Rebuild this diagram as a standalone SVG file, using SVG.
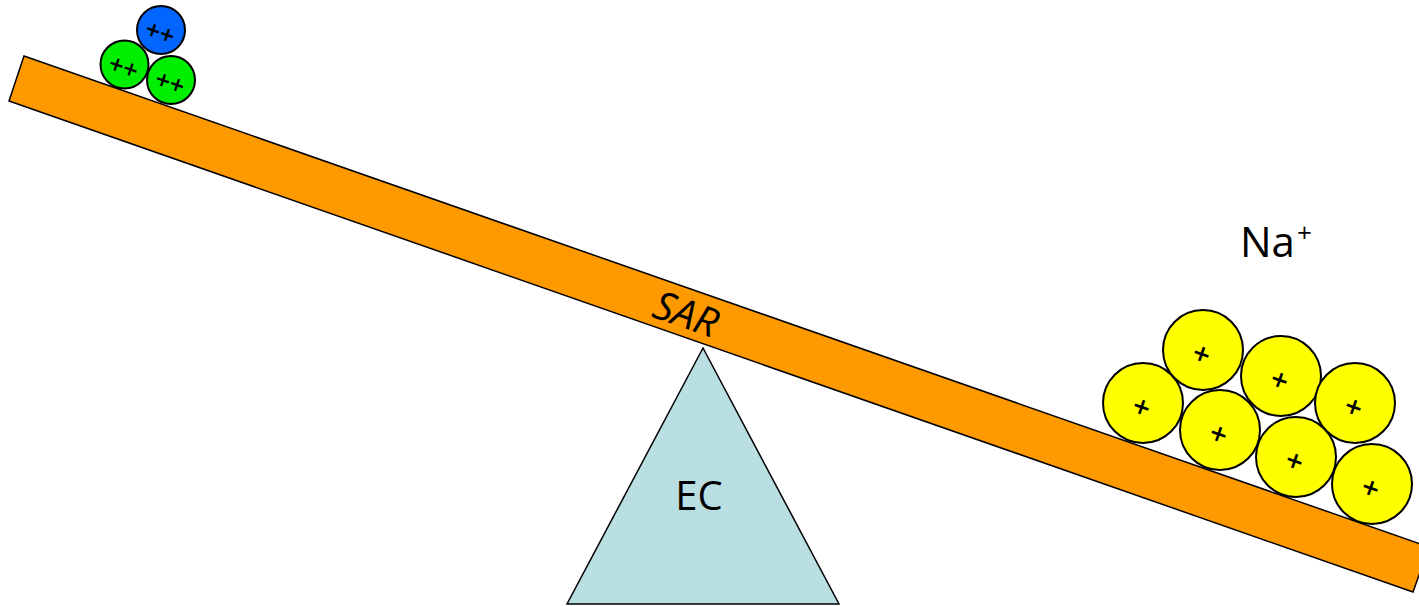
<svg xmlns="http://www.w3.org/2000/svg" width="1419" height="606" viewBox="0 0 1419 606">
<style>
.lbl{font-family:"Open Sans","Liberation Sans",sans-serif;fill:#000}
.ion{stroke:#000;stroke-width:2}
.y{fill:#FFFF00}
.g{fill:#00EE00}
.b{fill:#0066FF}
.pl{font-family:"Open Sans","Liberation Sans",sans-serif;font-size:30px;font-weight:600;text-anchor:middle;fill:#000}
.pp{font-family:"Open Sans","Liberation Sans",sans-serif;font-size:26px;font-weight:600;text-anchor:middle;fill:#000}
</style>
<rect width="1419" height="606" fill="#fff"/>
<g id="plank">
<polygon points="24,56 1429,547 1413,592 9,101" fill="#FF9900" stroke="#000" stroke-width="1.5"/>
<text class="lbl" x="686" y="328" font-size="40" font-style="italic" text-anchor="middle" transform="rotate(19.2 686 314)">SAR</text>
</g>
<g id="fulcrum">
<polygon points="703,348 567,604 839,604" fill="#B9DFE2" stroke="#000" stroke-width="1.5"/>
<text class="lbl" x="699" y="510" font-size="40" text-anchor="middle">EC</text>
</g>
<g id="divalent">
<circle class="ion b" cx="161" cy="30" r="24"/>
<text class="pp" x="161" y="42" transform="rotate(19.2 161 30)">++</text>
<circle class="ion g" cx="124.5" cy="64.5" r="24"/>
<text class="pp" x="124.5" y="76.5" transform="rotate(19.2 124.5 64.5)">++</text>
<circle class="ion g" cx="171" cy="80" r="24"/>
<text class="pp" x="171" y="92" transform="rotate(19.2 171 80)">++</text>
</g>
<g id="sodium">
<circle class="ion y" cx="1143" cy="403" r="40"/>
<text class="pl" x="1143" y="418" transform="rotate(19.2 1143 403)">+</text>
<circle class="ion y" cx="1203" cy="350" r="40"/>
<text class="pl" x="1203" y="365" transform="rotate(19.2 1203 350)">+</text>
<circle class="ion y" cx="1281" cy="376" r="40"/>
<text class="pl" x="1281" y="391" transform="rotate(19.2 1281 376)">+</text>
<circle class="ion y" cx="1355" cy="403" r="40"/>
<text class="pl" x="1355" y="418" transform="rotate(19.2 1355 403)">+</text>
<circle class="ion y" cx="1220" cy="430" r="40"/>
<text class="pl" x="1220" y="445" transform="rotate(19.2 1220 430)">+</text>
<circle class="ion y" cx="1296" cy="457" r="40"/>
<text class="pl" x="1296" y="472" transform="rotate(19.2 1296 457)">+</text>
<circle class="ion y" cx="1372" cy="484" r="40"/>
<text class="pl" x="1372" y="499" transform="rotate(19.2 1372 484)">+</text>
</g>
<g id="na-label">
<text class="lbl" x="1240" y="257" font-size="42">Na<tspan font-size="26" dx="2" dy="-15">+</tspan></text>
</g>
</svg>
